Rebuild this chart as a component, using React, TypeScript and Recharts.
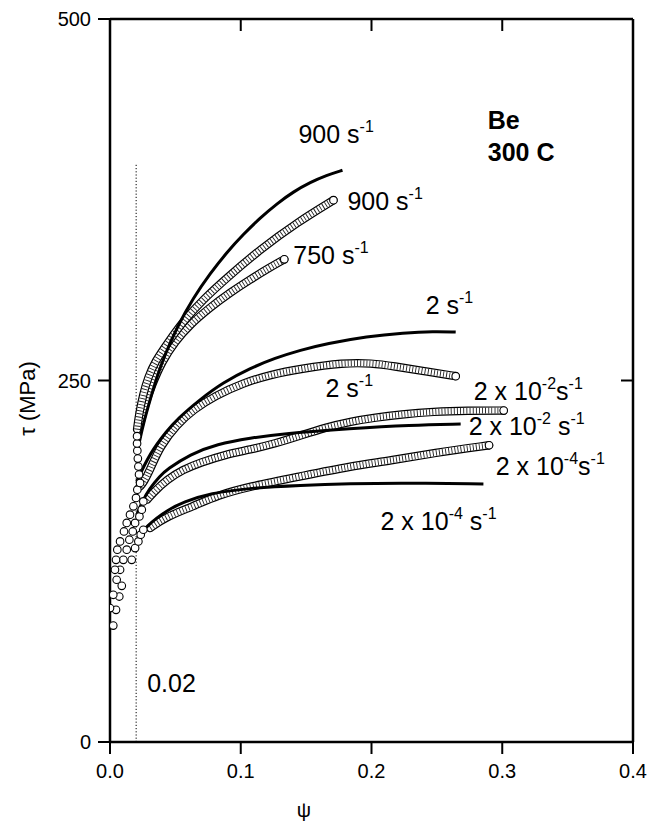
import React from 'react';
import { ComposedChart, Line, Scatter, XAxis, YAxis, ReferenceLine } from 'recharts';

type Pt = [number, number];

// axis ticks
const psiTicks = [0, 0.1, 0.2, 0.3, 0.4];
const psiTickLabels = ['0.0', '0.1', '0.2', '0.3', '0.4'];
const tauTicks = [0, 250, 500];
const mirrorPsiTicks = [0.1, 0.2, 0.3];
const mirrorTauTicks = [250];
const offsetPsi = 0.02;
const offsetTop = 400;

// solid curves (model)
const solid900: Pt[] = [[0.0207,200.1],[0.0253,219.5],[0.0307,236.8],[0.036,252.8],[0.0421,268],[0.0513,287],[0.0636,307],[0.0766,324],[0.0897,339],[0.1019,351],[0.1149,362.5],[0.128,372.5],[0.1402,380.5],[0.1533,387.1],[0.1655,391.9],[0.1778,395.4]];
const solid2: Pt[] = [[0.0204,180.1],[0.0307,200.1],[0.0434,215],[0.0511,223],[0.069,237],[0.0862,248.5],[0.1073,258.5],[0.1262,265.5],[0.1456,271],[0.1656,275.5],[0.1967,280.5],[0.2247,283],[0.2477,284],[0.2644,283.5]];
const solid2e2: Pt[] = [[0.0205,157.2],[0.0245,166],[0.03,175],[0.0383,184],[0.0434,188.4],[0.0613,199],[0.0818,206],[0.1073,210.3],[0.1328,213.3],[0.1839,216.8],[0.2299,219.2],[0.2682,219.9]];
const solid2e4: Pt[] = [[0.0243,144.7],[0.0281,149.1],[0.0358,154.9],[0.0434,160],[0.0562,166],[0.0766,172],[0.1073,175.7],[0.1456,177.6],[0.1839,178.7],[0.2222,179.2],[0.2856,178.5]];

// experimental data (open circles), dense parts
const circ900: Pt[] = [[0.0207,216.1],[0.0222,226.5],[0.0253,240.3],[0.0291,252.1],[0.0345,263.2],[0.0444,276.3],[0.0559,290.9],[0.0713,306.1],[0.0897,321.3],[0.1149,340.7],[0.1433,359.4],[0.1709,374.7]];
const circ750: Pt[] = [[0.023,219.5],[0.0268,233.4],[0.0322,247.2],[0.0398,263.2],[0.0498,277],[0.0613,288.8],[0.0766,300.6],[0.092,310.9],[0.1073,319.9],[0.1211,327.6],[0.1333,333.8]];
const circ2: Pt[] = [[0.023,176.8],[0.0255,179.2],[0.0307,188.4],[0.0383,204.5],[0.0511,219.5],[0.0638,229.9],[0.0805,239.5],[0.1021,248.4],[0.1226,254],[0.1456,258.1],[0.1788,262.3],[0.2,262],[0.2171,259.9],[0.24,256.5],[0.2644,253]];
const circ2e2: Pt[] = [[0.0284,167.6],[0.033,172.4],[0.0434,181.4],[0.0559,188.4],[0.069,193.2],[0.0881,198.8],[0.1073,202.2],[0.1264,206.4],[0.1456,211.9],[0.1648,217.5],[0.1839,221.6],[0.2031,224.4],[0.2222,226.5],[0.2475,228.5],[0.2733,229.2],[0.3011,229.2]];
const circ2e4: Pt[] = [[0.0307,148],[0.0434,156],[0.0638,163],[0.0818,170.5],[0.1073,176.8],[0.1456,183.7],[0.1839,190.7],[0.2146,194.6],[0.2475,199.9],[0.2899,205.2]];

// experimental data, sparse initial loading circles
const fanA: Pt[] = [[0.0025,80.5],[0.0,92.6],[0.0025,101.8],[0.0051,112.2],[0.0038,119.1],[0.0046,126],[0.0056,133],[0.0077,138.7],[0.0107,145.6],[0.0128,151.5],[0.0153,157.2],[0.0179,163],[0.0199,168.8],[0.0209,174.5],[0.023,179.2],[0.0222,185],[0.0217,190.5],[0.0213,196],[0.0209,201.5],[0.0207,206.5],[0.0207,211.5]];
const fanB: Pt[] = [[0.0046,91.4],[0.0071,100.6],[0.009,108],[0.0077,119.1],[0.0102,126],[0.0128,133],[0.0148,139.9],[0.0174,145.6],[0.0192,151.5],[0.0225,156],[0.0243,160.7],[0.0255,166.4]];
const fanC: Pt[] = [[0.0166,126],[0.0192,134.1],[0.0217,138.7],[0.0235,143.4],[0.0255,146.8]];

// annotations: [psi, tau, text parts ([text, isSuperscript])]
type Part = [string, boolean];
const annotations: { x: number; y: number; parts: Part[]; bold?: boolean }[] = [
  { x: 0.1441, y: 414.1, parts: [['900 s', false], ['-1', true]] },
  { x: 0.1816, y: 367.7, parts: [['900 s', false], ['-1', true]] },
  { x: 0.1402, y: 330.3, parts: [['750 s', false], ['-1', true]] },
  { x: 0.2414, y: 295.7, parts: [['2 s', false], ['-1', true]] },
  { x: 0.1648, y: 238.9, parts: [['2 s', false], ['-1', true]] },
  { x: 0.2782, y: 236.8, parts: [['2 x 10', false], ['-2', true], ['s', false], ['-1', true]] },
  { x: 0.2743, y: 212.6, parts: [['2 x 10', false], ['-2', true], [' s', false], ['-1', true]] },
  { x: 0.295, y: 184.9, parts: [['2 x 10', false], ['-4', true], ['s', false], ['-1', true]] },
  { x: 0.2069, y: 146.8, parts: [['2 x 10', false], ['-4', true], [' s', false], ['-1', true]] },
  { x: 0.2889, y: 423.8, parts: [['Be', false]], bold: true },
  { x: 0.2889, y: 401.7, parts: [['300 C', false]], bold: true },
  { x: 0.0284, y: 34.6, parts: [['0.02', false]] },
];

const FONT = '"Liberation Sans", Arial, Helvetica, sans-serif';
const toRows = (a: Pt[]) => a.map(([x, y]) => ({ x, y }));

const Ring = (props: any) => {
  const { cx, cy } = props;
  if (cx == null || cy == null) return <g />;
  return <circle cx={cx} cy={cy} r={3.8} fill="#fff" stroke="#000" strokeWidth={1.1} />;
};

const chain = (id: string, pts: Pt[]) => {
  const d = toRows(pts);
  const common = { data: d, dataKey: 'y', type: 'basis' as const, dot: false, activeDot: false, isAnimationActive: false, legendType: 'none' as const };
  return [
    <Line key={id + 'o'} {...common} stroke="#000" strokeWidth={8.4} strokeLinecap="round" />,
    <Line key={id + 'i'} {...common} stroke="#fff" strokeWidth={6} strokeLinecap="round" />,
    <Line key={id + 'c'} {...common} stroke="#222" strokeWidth={6} strokeDasharray="0.9 2.2" />,
    <Scatter key={id + 'e'} data={[d[d.length - 1]]} dataKey="y" shape={Ring} isAnimationActive={false} />,
  ];
};

const solid = (id: string, pts: Pt[]) => (
  <Line key={id} data={toRows(pts)} dataKey="y" type="basis" stroke="#000" strokeWidth={3} dot={false} activeDot={false} isAnimationActive={false} />
);

const annoShape = (parts: Part[], bold?: boolean) => (props: any) => {
  const { cx, cy } = props;
  if (cx == null || cy == null) return <g />;
  let prevSup = false;
  return (
    <text x={cx} y={cy} fontFamily={FONT} fontSize={25} fontWeight={bold ? 'bold' : 'normal'} fill="#000">
      {parts.map(([t, sup], i) => {
        let dy = 0;
        if (sup && !prevSup) dy = -11;
        if (!sup && prevSup) dy = 11;
        prevSup = sup;
        return (
          <tspan key={i} dy={dy} fontSize={sup ? 16 : 25}>
            {t}
          </tspan>
        );
      })}
    </text>
  );
};

const YTitle = (props: any) => {
  const vb = props.viewBox || { x: 42, y: 12, width: 60, height: 722 };
  const x = vb.x - 23;
  const y = vb.y + vb.height / 2 + 18;
  return (
    <text x={x} y={y} transform={`rotate(-90, ${x}, ${y})`} textAnchor="middle" dominantBaseline="central" fontFamily={FONT} fontSize={22} fill="#000">
      τ (MPa)
    </text>
  );
};

const XTitle = (props: any) => {
  const vb = props.viewBox || { x: 102, y: 734, width: 522, height: 60 };
  const x = vb.x + 194;
  const y = vb.y + 75;
  return (
    <text x={x} y={y} textAnchor="middle" fontFamily={FONT} fontSize={20} fill="#000">
      ψ
    </text>
  );
};

const noTick = () => <g />;

export default function App() {
  const axisLine = { stroke: '#000', strokeWidth: 2.5 };
  const tickLine = { stroke: '#000', strokeWidth: 2 };
  const tickFont = { fontFamily: FONT, fontSize: 20, fill: '#000' };
  return (
    <ComposedChart width={649} height={817} margin={{ top: 11, right: 24, bottom: 23, left: 42 }}>
      <XAxis
        dataKey="x"
        type="number"
        domain={[0, 0.4]}
        ticks={psiTicks}
        tickFormatter={(v: number) => psiTickLabels[psiTicks.indexOf(v)] ?? String(v)}
        allowDataOverflow
        height={60}
        tickSize={12}
        tickMargin={10}
        axisLine={axisLine}
        tickLine={tickLine}
        tick={tickFont}
        interval={0}
        label={<XTitle />}
      />
      <XAxis
        xAxisId="top"
        orientation="top"
        dataKey="x"
        type="number"
        domain={[0, 0.4]}
        ticks={mirrorPsiTicks}
        allowDataOverflow
        height={1}
        mirror
        tickSize={12}
        axisLine={axisLine}
        tickLine={tickLine}
        tick={noTick}
        interval={0}
      />
      <YAxis
        dataKey="y"
        type="number"
        domain={[0, 500]}
        ticks={tauTicks}
        allowDataOverflow
        width={60}
        tickSize={12}
        tickMargin={7}
        axisLine={axisLine}
        tickLine={tickLine}
        tick={tickFont}
        interval={0}
        label={<YTitle />}
      />
      <YAxis
        yAxisId="right"
        orientation="right"
        dataKey="y"
        type="number"
        domain={[0, 500]}
        ticks={mirrorTauTicks}
        allowDataOverflow
        width={1}
        mirror
        tickSize={12}
        axisLine={axisLine}
        tickLine={tickLine}
        tick={noTick}
        interval={0}
      />
      <ReferenceLine
        segment={[{ x: offsetPsi, y: 0 }, { x: offsetPsi, y: offsetTop }]}
        stroke="#000"
        strokeWidth={1}
        strokeDasharray="1.2 2"
      />
      {chain('c2e4', circ2e4)}
      {chain('c2e2', circ2e2)}
      {chain('c2', circ2)}
      {chain('c750', circ750)}
      {chain('c900', circ900)}
      <Scatter data={toRows(fanC)} dataKey="y" shape={Ring} isAnimationActive={false} />
      <Scatter data={toRows(fanB)} dataKey="y" shape={Ring} isAnimationActive={false} />
      <Scatter data={toRows(fanA)} dataKey="y" shape={Ring} isAnimationActive={false} />
      {solid('s2e4', solid2e4)}
      {solid('s2e2', solid2e2)}
      {solid('s2', solid2)}
      {solid('s900', solid900)}
      {annotations.map((a, i) => (
        <Scatter key={'a' + i} data={[{ x: a.x, y: a.y }]} dataKey="y" shape={annoShape(a.parts, a.bold)} isAnimationActive={false} />
      ))}
    </ComposedChart>
  );
}
